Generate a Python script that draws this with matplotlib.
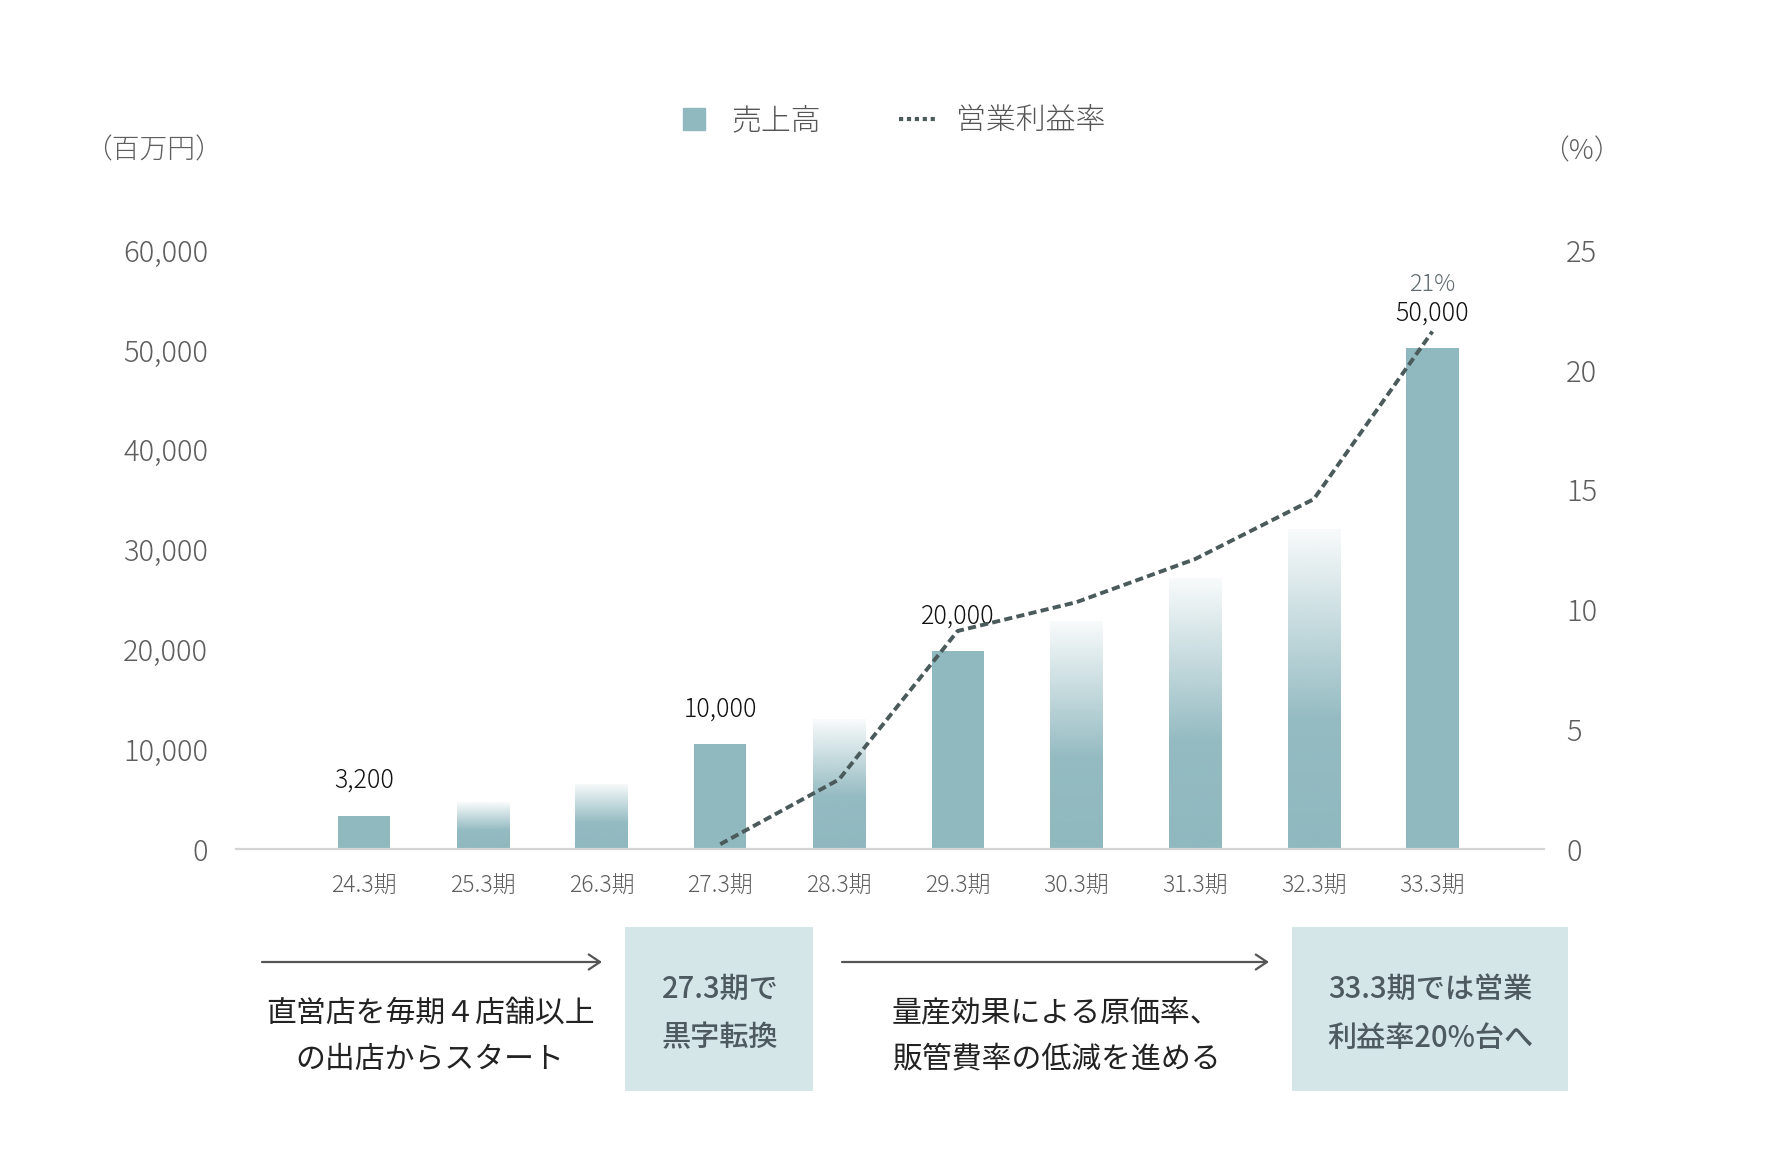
import numpy as np
import matplotlib
matplotlib.use('Agg')
import matplotlib.pyplot as plt
from matplotlib.lines import Line2D
from matplotlib.patches import Rectangle
from matplotlib.ticker import FuncFormatter, FixedLocator

plt.rcParams['font.family'] = ['Noto Sans CJK JP', 'DejaVu Sans']

# ---------------- data ----------------
periods = ['24.3期', '25.3期', '26.3期', '27.3期', '28.3期',
           '29.3期', '30.3期', '31.3期', '32.3期', '33.3期']
sales = [3350, 4700, 6550, 10500, 13000, 19800, 22800, 27100, 32100, 50200]
is_solid = [True, False, False, True, False, True, False, False, False, True]
sales_labels = ['3,200', '', '', '10,000', '', '20,000', '', '', '', '50,000']
margin_periods = periods[3:]
margin = [0.2, 2.9, 9.1, 10.3, 12.1, 14.6, 21.6]
margin_end_label = '21%'
left_ticks = [0, 10000, 20000, 30000, 40000, 50000, 60000]
right_ticks = [0, 5, 10, 15, 20, 25]
legend_labels = ['売上高', '営業利益率']
left_unit = '（百万円）'
right_unit = '（%）'
note1 = ['直営店を毎期４店舗以上', 'の出店からスタート']
box1 = ['27.3期で', '黒字転換']
note2 = ['量産効果による原価率、', '販管費率の低減を進める']
box2 = ['33.3期では営業', '利益率20%台へ']

# ---------------- style ----------------
BAR = '#8fb8bf'
LINE = '#4b5a5b'
TICK = '#5e5e5e'
BOXC = '#d5e6e9'
BOXT = '#4d5a60'

W, H = 1780, 1164
fig = plt.figure(figsize=(W / 100, H / 100), dpi=100)

# overlay for annotations (pixel coordinates)
ov = fig.add_axes([0, 0, 1, 1])
ov.set_xlim(0, W)
ov.set_ylim(H, 0)
ov.axis('off')

ax = fig.add_axes([236 / W, 1 - 849 / H, (1544 - 236) / W, (849 - 250) / H])
ax.patch.set_visible(False)

x = np.arange(len(periods))
bars = ax.bar(x, sales, width=0.44, color=BAR, zorder=2, linewidth=0)

# gradient for forecast bars
t = np.linspace(0, 1, 256)
alpha = np.where(t < 0.4, 1.0 - t * 0.1, 0.96 - (t - 0.4) / 0.6 * 0.9)
rgb = matplotlib.colors.to_rgb(BAR)
grad = np.zeros((256, 1, 4))
grad[:, 0, 0], grad[:, 0, 1], grad[:, 0, 2] = rgb
grad[:, 0, 3] = alpha
for b, solid in zip(bars, is_solid):
    if not solid:
        b.set_facecolor('none')
        x0, w, h = b.get_x(), b.get_width(), b.get_height()
        im = ax.imshow(grad, extent=[x0, x0 + w, 0, h], origin='lower',
                       aspect='auto', interpolation='bilinear', zorder=2)
        im.set_clip_path(b)

ax.set_xlim(-1.08, 9.94)
ax.set_ylim(0, 60000)
ax.set_xticks(x)
ax.set_xticklabels(periods, fontweight='light')
ax.yaxis.set_major_locator(FixedLocator(left_ticks))
ax.yaxis.set_major_formatter(FuncFormatter(lambda v, p: f'{v:,.0f}'))
ax.tick_params(axis='x', length=0, pad=18, labelsize=16.5, labelcolor=TICK)
ax.tick_params(axis='y', length=0, pad=20, labelsize=21, labelcolor=TICK)
for lab in ax.get_yticklabels():
    lab.set_fontweight('light')
for s in ['top', 'right', 'left']:
    ax.spines[s].set_visible(False)
ax.spines['bottom'].set_color('#d4d4d4')
ax.spines['bottom'].set_linewidth(1.6)

for xi, v, lab in zip(x, sales, sales_labels):
    if lab:
        ax.annotate(lab, (xi, v), xytext=(0, 25), textcoords='offset points',
                    ha='center', va='center', fontsize=18, fontweight='light',
                    color='#111111')

ax2 = ax.twinx()
ax2.set_ylim(0, 25)
ax2.yaxis.set_major_locator(FixedLocator(right_ticks))
ax2.tick_params(axis='y', length=0, pad=16, labelsize=21, labelcolor=TICK)
for lab in ax2.get_yticklabels():
    lab.set_fontweight('light')
for s in ['top', 'right', 'left', 'bottom']:
    ax2.spines[s].set_visible(False)
mx = x[len(periods) - len(margin):]
ax2.plot(mx, margin, color=LINE, lw=2.8, linestyle=(0, (2.1, 1.1)), zorder=3)
ax2.annotate(margin_end_label, (mx[-1], margin[-1]), xytext=(0, 34),
             textcoords='offset points', ha='center', va='center',
             fontsize=17, fontweight='light', color='#5f6b70')

# legend
handles = [Line2D([], [], marker='s', markersize=15.8, linestyle='none', color=BAR),
           Line2D([], [], color=LINE, lw=3, linestyle=(0, (1.0, 0.9)))]
fig.legend(handles, legend_labels, loc='center', bbox_to_anchor=(0.5, 1 - 121 / H),
           ncol=2, frameon=False, handlelength=1.3, handletextpad=0.6,
           columnspacing=2.6, labelcolor='#555555',
           prop={'family': ['Noto Sans CJK JP'], 'size': 21.5, 'weight': 'light'})

# units
ov.text(153, 150, left_unit, ha='center', va='center', fontsize=20,
        fontweight='light', color=TICK)
ov.text(1581, 151, right_unit, ha='center', va='center', fontsize=20,
        fontweight='light', color=TICK)

# bottom annotations
arrow_kw = dict(arrowstyle='->,head_length=0.45,head_width=0.3', color='#555555', lw=1.6,
                shrinkA=0, shrinkB=0, mutation_scale=18)
ov.annotate('', xy=(602, 962), xytext=(262, 962), arrowprops=arrow_kw)
ov.annotate('', xy=(1269, 962), xytext=(842, 962), arrowprops=arrow_kw)

ov.add_patch(Rectangle((625, 927), 188, 164, color=BOXC, lw=0))
ov.add_patch(Rectangle((1292, 927), 276, 164, color=BOXC, lw=0))

for i, ln in enumerate(note1):
    ov.text(430, 1013 + 46 * i, ln, ha='center', va='center', fontsize=21.5, color='#222222')
for i, ln in enumerate(note2):
    ov.text(1056, 1013 + 46 * i, ln, ha='center', va='center', fontsize=21.5, color='#222222')
for i, ln in enumerate(box1):
    ov.text(720, 989 + 49 * i, ln, ha='center', va='center', fontsize=21,
            fontweight='medium', color=BOXT)
for i, ln in enumerate(box2):
    ov.text(1430, 989 + 49 * i, ln, ha='center', va='center', fontsize=21,
            fontweight='medium', color=BOXT)

fig.savefig('out.png', dpi=100, facecolor='white')
